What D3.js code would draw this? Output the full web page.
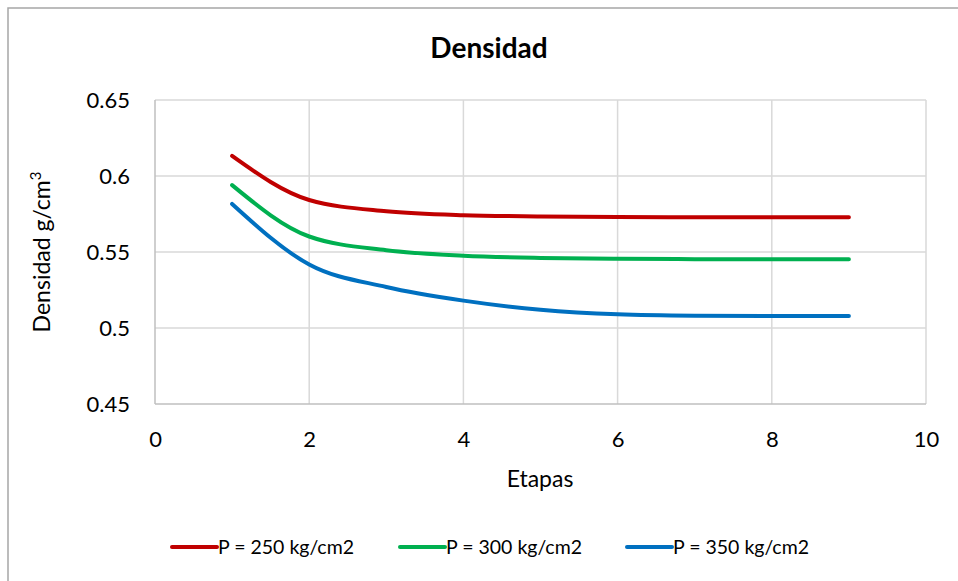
<!DOCTYPE html>
<html><head><meta charset="utf-8">
<script src="https://cdn.jsdelivr.net/npm/d3@7"></script>
<style>body{margin:0;background:#fff}svg{display:block}text{font-family:Lato,"Open Sans",sans-serif;fill:#000}</style>
</head><body><div id="c"></div>
<script>
const etapas = [1,2,3,4,5,6,7,8,9];
const p250 = [0.6132,0.5842,0.5768,0.5742,0.5734,0.5730,0.5729,0.5728,0.5728];
const p300 = [0.5940,0.5602,0.5512,0.5476,0.5461,0.5455,0.5453,0.5452,0.5452];
const p350 = [0.5816,0.5418,0.5270,0.5180,0.5120,0.5090,0.5081,0.5079,0.5079];
const seriesNames = ["P = 250 kg/cm2","P = 300 kg/cm2","P = 350 kg/cm2"];
const seriesColors = ["#c00000","#00b050","#0070c0"];
const xTicks = [0,2,4,6,8,10];
const yTicks = [0.45,0.5,0.55,0.6,0.65];

const W=958,H=581;
const svg=d3.select("#c").append("svg").attr("width",W).attr("height",H);
svg.append("rect").attr("x",8).attr("y",8).attr("width",W).attr("height",H).attr("fill","#fff").attr("stroke","#a6a6a6").attr("stroke-width",1.5);

const x=d3.scaleLinear().domain([0,10]).range([155,926]);
const y=d3.scaleLinear().domain([0.45,0.65]).range([404,100]);

// gridlines
svg.append("g").selectAll("line").data(xTicks.slice(1)).join("line")
 .attr("x1",d=>x(d)).attr("x2",d=>x(d)).attr("y1",y(0.65)).attr("y2",y(0.45))
 .attr("stroke","#d9d9d9").attr("stroke-width",1.5);
svg.append("g").selectAll("line").data(yTicks.slice(1)).join("line")
 .attr("x1",x(0)).attr("x2",x(10)).attr("y1",d=>y(d)).attr("y2",d=>y(d))
 .attr("stroke","#d9d9d9").attr("stroke-width",1.5);
// axes lines
svg.append("line").attr("x1",x(0)).attr("x2",x(0)).attr("y1",y(0.65)).attr("y2",y(0.45)).attr("stroke","#bfbfbf").attr("stroke-width",1.5);
svg.append("line").attr("x1",x(0)).attr("x2",x(10)).attr("y1",y(0.45)).attr("y2",y(0.45)).attr("stroke","#bfbfbf").attr("stroke-width",1.5);

// tick labels
const xa=svg.append("g").attr("transform",`translate(0,${y(0.45)})`).call(d3.axisBottom(x).tickValues(xTicks).tickSize(0).tickPadding(0).tickFormat(d3.format("d")));
xa.select(".domain").remove();
xa.selectAll("text").attr("dy",null).attr("y",43).style("font-size","22px");
const ya=svg.append("g").attr("transform",`translate(${x(0)},0)`).call(d3.axisLeft(y).tickValues(yTicks).tickSize(0).tickPadding(0).tickFormat(d=>String(+d.toFixed(2))));
ya.select(".domain").remove();
ya.selectAll("text").attr("x",-25).attr("dy","0.35em").style("font-size","22px");

// title
svg.append("text").attr("x",489).attr("y",58).attr("text-anchor","middle").style("font-size","28px").style("font-weight","bold").text("Densidad");
// axis titles
svg.append("text").attr("x",540).attr("y",487).attr("text-anchor","middle").style("font-size","23px").text("Etapas");
const yt=svg.append("text").attr("transform",`translate(50,${y(0.55)}) rotate(-90)`).attr("text-anchor","middle").style("font-size","23px");
yt.append("tspan").text("Densidad g/cm");
yt.append("tspan").attr("dy",-9).style("font-size","15px").text("3");

// lines
const all=[p250,p300,p350];
const line=d3.line().x((d,i)=>x(etapas[i])).y(d=>y(d)).curve(d3.curveMonotoneX);
svg.append("g").selectAll("path").data(all).join("path")
 .attr("d",d=>line(d)).attr("fill","none").attr("stroke",(d,i)=>seriesColors[i]).attr("stroke-width",4).attr("stroke-linecap","round");

// legend
const lx=[172,400,627];
const lg=svg.append("g").selectAll("g").data(seriesNames).join("g").attr("transform",(d,i)=>`translate(${lx[i]},547)`);
lg.append("line").attr("x1",0).attr("x2",45).attr("stroke",(d,i)=>seriesColors[i]).attr("stroke-width",4).attr("stroke-linecap","round");
lg.append("text").attr("x",46).attr("dy","0.35em").style("font-size","19.5px").text(d=>d);
</script></body></html>
